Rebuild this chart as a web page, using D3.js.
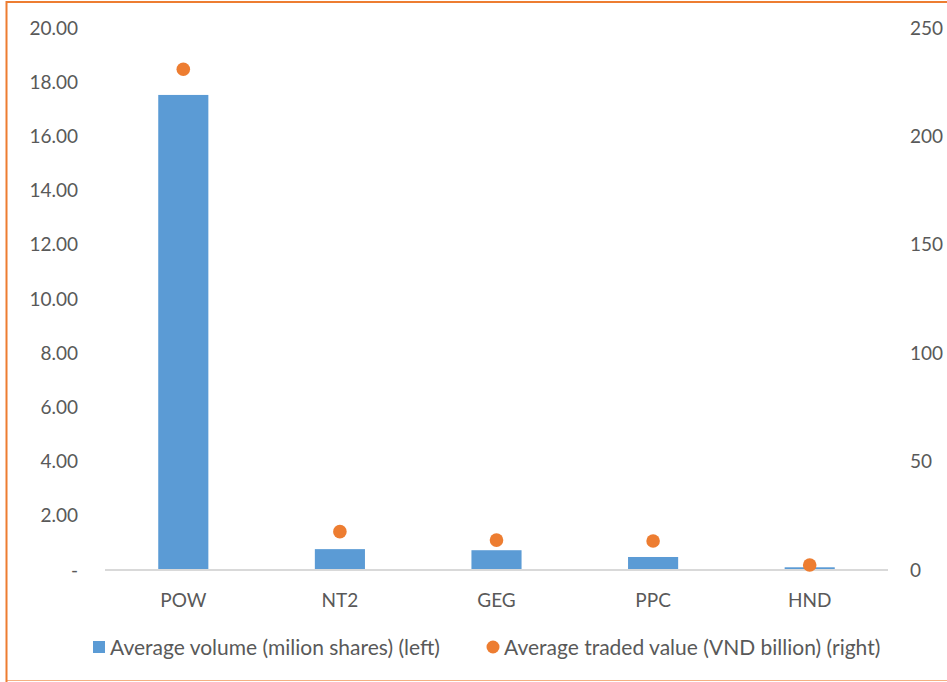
<!DOCTYPE html>
<html>
<head>
<meta charset="utf-8">
<script src="https://cdn.jsdelivr.net/npm/d3@7"></script>
<style>
  body { margin: 0; background: #fff; }
  svg text { font-family: Lato, "Open Sans", sans-serif; fill: #595959; }
</style>
</head>
<body>
<div id="chart"></div>
<script>
var categories = ["POW", "NT2", "GEG", "PPC", "HND"];
var volume = [17.53, 0.77, 0.73, 0.48, 0.1];         // left axis, million shares
var tradedValue = [231, 17.7, 13.8, 13.4, 2.3];      // right axis, VND billion
var leftTicks = [0, 2, 4, 6, 8, 10, 12, 14, 16, 18, 20];
var rightTicks = [0, 50, 100, 150, 200, 250];
var seriesNames = ["Average volume (milion shares) (left)", "Average traded value (VND billion) (right)"];

var width = 947,
    height = 682,
    margin = {top: 28, right: 59, bottom: 112, left: 105},
    svg = d3.select("#chart")
            .append("svg")
            .attr("width", width)
            .attr("height", height);

// frame
svg.append("rect")
    .attr("x", 6.5).attr("y", 2)
    .attr("width", 980).attr("height", 678.5)
    .attr("fill", "none")
    .attr("stroke", "#f4b183")
    .attr("stroke-width", 1);
svg.append("line")
    .attr("x1", 6.5).attr("x2", 6.5).attr("y1", 1).attr("y2", 682)
    .attr("stroke", "#ed7d31").attr("stroke-width", 2);
svg.append("line")
    .attr("x1", 6).attr("x2", 947).attr("y1", 2).attr("y2", 2)
    .attr("stroke", "#ed7d31").attr("stroke-width", 2);

var x = d3.scaleBand()
    .domain(categories)
    .range([margin.left, width - margin.right])
    .paddingInner(0.68)
    .paddingOuter(0.34);

var yLeft = d3.scaleLinear()
    .domain([0, 20])
    .range([height - margin.bottom, margin.top]);

var yRight = d3.scaleLinear()
    .domain([0, 250])
    .range([height - margin.bottom, margin.top]);

var x0 = yLeft(0);

// bars
svg.selectAll("rect.bar").data(volume).enter()
    .append("rect")
    .attr("class", "bar")
    .attr("x", function(d, i) { return x(categories[i]); })
    .attr("y", function(d) { return yLeft(d); })
    .attr("width", x.bandwidth())
    .attr("height", function(d) { return x0 - yLeft(d); })
    .attr("fill", "#5b9bd5");

// baseline
svg.append("line")
    .attr("x1", margin.left).attr("x2", width - margin.right)
    .attr("y1", x0).attr("y2", x0)
    .attr("stroke", "#d9d9d9").attr("stroke-width", 2);

// dots
svg.selectAll("circle.dot").data(tradedValue).enter()
    .append("circle")
    .attr("class", "dot")
    .attr("cx", function(d, i) { return x(categories[i]) + x.bandwidth() / 2; })
    .attr("cy", function(d) { return yRight(d); })
    .attr("r", 6.8)
    .attr("fill", "#ed7d31");

// left axis labels
svg.selectAll("text.yl").data(leftTicks).enter()
    .append("text")
    .attr("class", "yl")
    .attr("x", 78)
    .attr("y", function(d) { return yLeft(d); })
    .attr("dy", "0.35em")
    .attr("text-anchor", "end")
    .attr("font-size", "19px")
    .text(function(d) { return d === 0 ? "-" : d3.format(".2f")(d); });

// right axis labels
svg.selectAll("text.yr").data(rightTicks).enter()
    .append("text")
    .attr("class", "yr")
    .attr("x", 910)
    .attr("y", function(d) { return yRight(d); })
    .attr("dy", "0.35em")
    .attr("font-size", "19px")
    .text(function(d) { return d; });

// category labels
svg.selectAll("text.xl").data(categories).enter()
    .append("text")
    .attr("class", "xl")
    .attr("x", function(d) { return x(d) + x.bandwidth() / 2; })
    .attr("y", 607)
    .attr("text-anchor", "middle")
    .attr("font-size", "19px")
    .text(function(d) { return d; });

// legend
svg.append("rect")
    .attr("x", 93).attr("y", 641)
    .attr("width", 12).attr("height", 12)
    .attr("fill", "#5b9bd5");
svg.append("text")
    .attr("x", 110).attr("y", 654.5)
    .attr("font-size", "21px")
    .text(seriesNames[0]);
svg.append("circle")
    .attr("cx", 493).attr("cy", 647).attr("r", 6.5)
    .attr("fill", "#ed7d31");
svg.append("text")
    .attr("x", 504).attr("y", 654.5)
    .attr("font-size", "21px")
    .text(seriesNames[1]);
</script>
</body>
</html>
